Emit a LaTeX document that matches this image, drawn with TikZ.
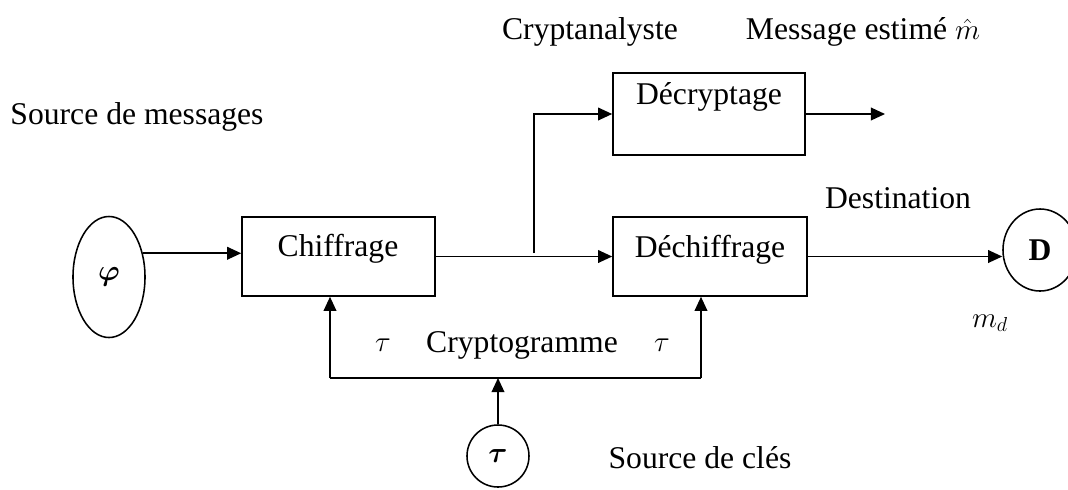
\documentclass[tikz,border=0pt]{standalone}
\usepackage{amsmath}
\usepackage{amsfonts}
\usepackage{bm}
\usepackage{fontspec}
\setmainfont{Liberation Serif}
\usepackage{tikz}
\usetikzlibrary{arrows.meta,shapes.geometric}

\begin{document}
\begin{tikzpicture}[x=0.025cm,y=-0.025cm,
		font=\fontsize{22.5}{27}\selectfont,line width=1.1pt,
		boite/.style={draw,rectangle,inner sep=0pt},
		fleche/.style={-{Triangle[length=10pt,width=9pt]}}]
					\useasboundingbox (0,0) rectangle (1068,489);
					
					\node[draw,ellipse,minimum width=1.8cm,minimum height=3.025cm,inner sep=0pt] (phi) at (109,277) {$\bm{\varphi}$};
					\node[boite,minimum width=4.825cm,minimum height=1.975cm] (chif) at (338.5,256.5) {};
					\node[boite,minimum width=4.85cm,minimum height=1.975cm] (dech) at (710,256.5) {};
					\node[boite,minimum width=4.8cm,minimum height=2.05cm] (decr) at (709,114) {};
					\node[draw,ellipse,minimum width=1.85cm,minimum height=2.05cm,inner sep=0pt] (D) at (1040,250) {\textbf{D}};
					\node[draw,circle,minimum size=1.55cm,inner sep=0pt] (tau) at (498,456) {$\bm{\tau}$};
					
					\node (chifT) at (338,249) {Chiffrage};
					\node (dechT) at (710,250) {Déchiffrage};
					\node (decrT) at (709,97) {Décryptage};
					
					\coordinate (br) at (534,253);
					\coordinate (sortie) at (885,114);
					\coordinate (k1) at (330,378);
					\coordinate (k2) at (701,378);
					\coordinate (k3) at (tau.north |- k1);
					
					\draw[fleche] (phi.35) -- (chif.west |- phi.35);
					\draw[fleche] (chif.east) -- (dech.west);
					\draw[fleche] (br) |- (decr.west);
					\draw[fleche] (decr.east) -- (sortie);
					\draw[fleche] (dech.east) -- (dech.east -| D.west);
					\draw (k1) -- (k2);
					\draw[fleche] (k1) -- (k1 |- chif.south);
					\draw[fleche] (k2) -- (k2 |- dech.south);
					\draw[fleche] (tau.north) -- (k3);
					
					\node (crypta) at (590,32) {Cryptanalyste};
					\node (estim) at (863,32) {Message estimé $\hat{m}$};
					\node (srcm) at (137,117) {Source de messages};
					\node (dest) at (898,198) {Destination};
					\node (md) at (990,323) {$m_d$};
					\node (tauG) at (383,345) {$\tau$};
					\node (cgram) at (522,345) {Cryptogramme};
					\node (tauD) at (662,345) {$\tau$};
					\node (srck) at (700,458) {Source de clés};
				\end{tikzpicture}
\end{document}
